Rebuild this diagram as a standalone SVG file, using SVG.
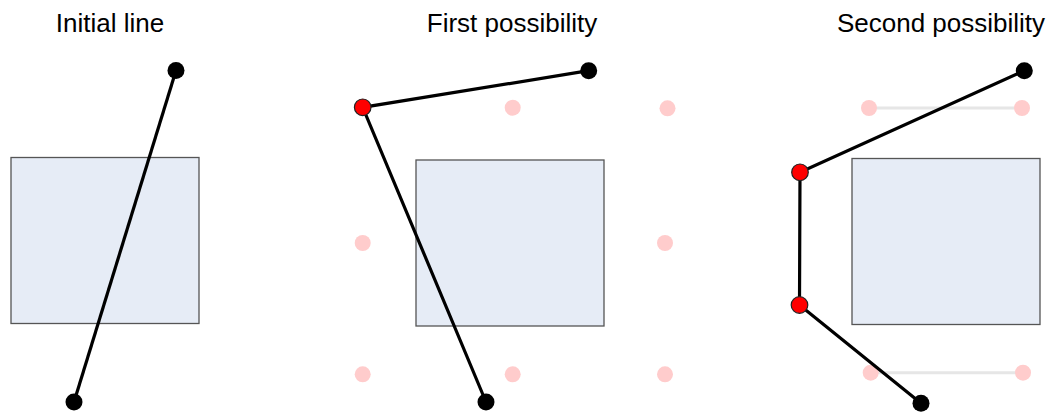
<svg xmlns="http://www.w3.org/2000/svg" width="1055" height="412" viewBox="0 0 1055 412">
<style>
.title{font-family:"Liberation Sans",Arial,sans-serif;font-size:26px;fill:#000;text-anchor:middle}
.box{fill:#e6ecf6;stroke:#555;stroke-width:1.3}
.line{stroke:#000;stroke-width:3.2;fill:none}
.grey{stroke:#e6e6e6;stroke-width:3;fill:none}
.end{fill:#000}
.red{fill:#ff0000;stroke:#222;stroke-width:1.2}
.pink{fill:#ffcccc}
</style>
<rect width="1055" height="412" fill="#fff"/>
<text class="title" x="110" y="32">Initial line</text>
<text class="title" x="512" y="32">First possibility</text>
<text class="title" x="941" y="32">Second possibility</text>

<g id="obstacle1"><rect class="box" x="11" y="157.5" width="188" height="166"/></g>
<g id="obstacle2"><rect class="box" x="416" y="160" width="188" height="166"/></g>
<g id="obstacle3"><rect class="box" x="852" y="158.5" width="188" height="166"/></g>

<g id="candidates">
<circle class="pink" cx="512.7" cy="107.7" r="8"/>
<circle class="pink" cx="667.5" cy="108.3" r="8"/>
<circle class="pink" cx="362.7" cy="243" r="8"/>
<circle class="pink" cx="665" cy="243" r="8"/>
<circle class="pink" cx="362.7" cy="374.3" r="8"/>
<circle class="pink" cx="512.7" cy="374.3" r="8"/>
<circle class="pink" cx="665" cy="374.3" r="8"/>
<line class="grey" x1="869" y1="108" x2="1022" y2="108"/>
<line class="grey" x1="870.7" y1="372.7" x2="1023" y2="372.7"/>
<circle class="pink" cx="869" cy="108" r="8"/>
<circle class="pink" cx="1022" cy="108" r="8"/>
<circle class="pink" cx="870.7" cy="372.7" r="8"/>
<circle class="pink" cx="1023" cy="372.7" r="8"/>
</g>

<g id="connectors">
<polyline class="line" points="176,70.5 74,402"/>
<polyline class="line" points="588.7,70.7 362.7,107.3 486,402"/>
<polyline class="line" points="1024.3,70.7 800,172.3 799.5,305 921,403.3"/>
</g>

<g id="points">
<circle class="end" cx="176" cy="70.5" r="8.5"/>
<circle class="end" cx="74" cy="402" r="8.5"/>
<circle class="end" cx="588.7" cy="70.7" r="8.5"/>
<circle class="red" cx="362.7" cy="107.3" r="8.3"/>
<circle class="end" cx="486" cy="402" r="8.5"/>
<circle class="end" cx="1024.3" cy="70.7" r="8.5"/>
<circle class="red" cx="800" cy="172.3" r="8.3"/>
<circle class="red" cx="799.5" cy="305" r="8.3"/>
<circle class="end" cx="921" cy="403.3" r="8.5"/>
</g>
</svg>
